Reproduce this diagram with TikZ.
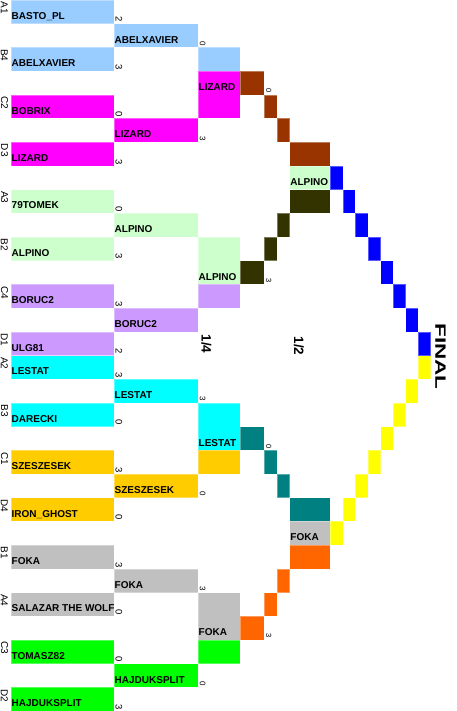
\documentclass[tikz,border=0pt]{standalone}
\usepackage{fontspec}
\setmainfont{Liberation Sans}
\usepackage{graphicx}
\definecolor{lblue}{HTML}{99CCFF}
\definecolor{magen}{HTML}{FF00FF}
\definecolor{lgreen}{HTML}{CCFFCC}
\definecolor{purp}{HTML}{CC99FF}
\definecolor{cyanc}{HTML}{00FFFF}
\definecolor{goldc}{HTML}{FFCC00}
\definecolor{grayc}{HTML}{C0C0C0}
\definecolor{greenc}{HTML}{00FF00}
\definecolor{brownc}{HTML}{993300}
\definecolor{olivec}{HTML}{333300}
\definecolor{tealc}{HTML}{008080}
\definecolor{orangec}{HTML}{FF6600}
\definecolor{bluec}{HTML}{0000FF}
\definecolor{yellowc}{HTML}{FFFF00}
\newcommand\RH{23.7}
% column edges
\newcommand\xA{11}\newcommand\xB{114}\newcommand\xC{198}\newcommand\xD{240}
\newcommand\xE{264.3}\newcommand\xF{277}\newcommand\xG{289.7}\newcommand\xH{330.3}
\newcommand\dw{12.55}
% \mycell{colour}{x1}{x2}{row from}{row to}
\newcommand\mycell[5]{\fill[#1] (#2,{#4*\RH}) rectangle (#3,{(#5+1)*\RH});
  \draw[white,draw opacity=0.35,line width=0.5pt] (#2,{#4*\RH}) rectangle (#3,{(#5+1)*\RH});}
% \myname{node name}{x}{row}{text}
\newcommand\myname[4]{\node[nm] (#1) at ({#2+0.5},{(#3+1)*\RH-4.3}) {#4};}
% \myscore{node name}{style}{x}{row}{text}
\newcommand\myscore[5]{\node[#2] (#1) at (#3,{(#4+1)*\RH}) {#5};}
% \myseed{node name}{row}{text}
\newcommand\myseed[3]{\node[seed] (#1) at (0.8,{#2*\RH+1.5}) {#3};}
\begin{document}
\begin{tikzpicture}[x=1pt,y=-1pt,
  nm/.style={anchor=base west,inner sep=0pt,font=\fontsize{10}{12}\selectfont\bfseries,text=black},
  scA/.style={rotate=-90,anchor=south east,inner sep=1.3pt,font=\fontsize{9.5}{11}\selectfont},
  scB/.style={rotate=-90,anchor=south east,inner sep=1.5pt,font=\fontsize{8}{10}\selectfont},
  scC/.style={rotate=-90,anchor=south east,inner sep=1.6pt,font=\fontsize{7.5}{9}\selectfont},
  seed/.style={rotate=-90,anchor=south west,inner sep=0pt,font=\fontsize{10}{12}\selectfont},
  rnd/.style={rotate=-90,inner sep=0pt,font=\fontsize{13.5}{15}\selectfont\bfseries}]
\useasboundingbox (0,0) rectangle (456,711);
% ---- first round / quarter colour cells
\mycell{lblue}{\xA}{\xB}{0}{0}
\mycell{lblue}{\xB}{\xC}{1}{1}
\mycell{lblue}{\xA}{\xB}{2}{2}
\mycell{lblue}{\xC}{\xD}{2}{2}
\mycell{magen}{\xC}{\xD}{3}{4}
\mycell{magen}{\xA}{\xB}{4}{4}
\mycell{magen}{\xB}{\xC}{5}{5}
\mycell{magen}{\xA}{\xB}{6}{6}
\mycell{lgreen}{\xA}{\xB}{8}{8}
\mycell{lgreen}{\xB}{\xC}{9}{9}
\mycell{lgreen}{\xA}{\xB}{10}{10}
\mycell{lgreen}{\xC}{\xD}{10}{11}
\mycell{purp}{\xC}{\xD}{12}{12}
\mycell{purp}{\xA}{\xB}{12}{12}
\mycell{purp}{\xB}{\xC}{13}{13}
\mycell{purp}{\xA}{\xB}{14}{14}
\mycell{cyanc}{\xA}{\xB}{15}{15}
\mycell{cyanc}{\xB}{\xC}{16}{16}
\mycell{cyanc}{\xA}{\xB}{17}{17}
\mycell{cyanc}{\xC}{\xD}{17}{18}
\mycell{goldc}{\xC}{\xD}{19}{19}
\mycell{goldc}{\xA}{\xB}{19}{19}
\mycell{goldc}{\xB}{\xC}{20}{20}
\mycell{goldc}{\xA}{\xB}{21}{21}
\mycell{grayc}{\xA}{\xB}{23}{23}
\mycell{grayc}{\xB}{\xC}{24}{24}
\mycell{grayc}{\xA}{\xB}{25}{25}
\mycell{grayc}{\xC}{\xD}{25}{26}
\mycell{greenc}{\xC}{\xD}{27}{27}
\mycell{greenc}{\xA}{\xB}{27}{27}
\mycell{greenc}{\xB}{\xC}{28}{28}
\mycell{greenc}{\xA}{\xB}{29}{29}
% ---- semi-final staircases
\mycell{brownc}{\xD}{\xE}{3}{3}
\mycell{brownc}{\xE}{\xF}{4}{4}
\mycell{brownc}{\xF}{\xG}{5}{5}
\mycell{brownc}{\xG}{\xH}{6}{6}
\mycell{lgreen}{\xG}{\xH}{7}{7}
\mycell{olivec}{\xG}{\xH}{8}{8}
\mycell{olivec}{\xF}{\xG}{9}{9}
\mycell{olivec}{\xE}{\xF}{10}{10}
\mycell{olivec}{\xD}{\xE}{11}{11}
\mycell{tealc}{\xD}{\xE}{18}{18}
\mycell{tealc}{\xE}{\xF}{19}{19}
\mycell{tealc}{\xF}{\xG}{20}{20}
\mycell{tealc}{\xG}{\xH}{21}{21}
\mycell{grayc}{\xG}{\xH}{22}{22}
\mycell{orangec}{\xG}{\xH}{23}{23}
\mycell{orangec}{\xF}{\xG}{24}{24}
\mycell{orangec}{\xE}{\xF}{25}{25}
\mycell{orangec}{\xD}{\xE}{26}{26}
% ---- final staircases
\foreach \k in {0,...,7}{
  \pgfmathsetmacro\bxa{\xH+\k*\dw}
  \pgfmathsetmacro\bxb{\xH+(\k+1)*\dw}
  \pgfmathsetmacro\yxa{\xH+(7-\k)*\dw}
  \pgfmathsetmacro\yxb{\xH+(8-\k)*\dw}
  \pgfmathtruncatemacro\bro{7+\k}
  \pgfmathtruncatemacro\yro{15+\k}
  \mycell{bluec}{\bxa}{\bxb}{\bro}{\bro}
  \mycell{yellowc}{\yxa}{\yxb}{\yro}{\yro}
}
% ---- names
\myname{p1}{\xA}{0}{BASTO\_PL}
\myname{p2}{\xA}{2}{ABELXAVIER}
\myname{p3}{\xA}{4}{BOBRIX}
\myname{p4}{\xA}{6}{LIZARD}
\myname{p5}{\xA}{8}{79TOMEK}
\myname{p6}{\xA}{10}{ALPINO}
\myname{p7}{\xA}{12}{BORUC2}
\myname{p8}{\xA}{14}{ULG81}
\myname{p9}{\xA}{15}{LESTAT}
\myname{p10}{\xA}{17}{DARECKI}
\myname{p11}{\xA}{19}{SZESZESEK}
\myname{p12}{\xA}{21}{IRON\_GHOST}
\myname{p13}{\xA}{23}{FOKA}
\myname{p14}{\xA}{25}{SALAZAR THE WOLF}
\myname{p15}{\xA}{27}{TOMASZ82}
\myname{p16}{\xA}{29}{HAJDUKSPLIT}
\myname{q1}{\xB}{1}{ABELXAVIER}
\myname{q2}{\xB}{5}{LIZARD}
\myname{q3}{\xB}{9}{ALPINO}
\myname{q4}{\xB}{13}{BORUC2}
\myname{q5}{\xB}{16}{LESTAT}
\myname{q6}{\xB}{20}{SZESZESEK}
\myname{q7}{\xB}{24}{FOKA}
\myname{q8}{\xB}{28}{HAJDUKSPLIT}
\myname{r1}{\xC}{3}{LIZARD}
\myname{r2}{\xC}{11}{ALPINO}
\myname{r3}{\xC}{18}{LESTAT}
\myname{r4}{\xC}{26}{FOKA}
\myname{s1}{\xG}{7}{ALPINO}
\myname{s2}{\xG}{22}{FOKA}
% ---- seeds
\myseed{d1}{0}{A1}
\myseed{d2}{2}{B4}
\myseed{d3}{4}{C2}
\myseed{d4}{6}{D3}
\myseed{d5}{8}{A3}
\myseed{d6}{10}{B2}
\myseed{d7}{12}{C4}
\myseed{d8}{14}{D1}
\myseed{d9}{15}{A2}
\myseed{d10}{17}{B3}
\myseed{d11}{19}{C1}
\myseed{d12}{21}{D4}
\myseed{d13}{23}{B1}
\myseed{d14}{25}{A4}
\myseed{d15}{27}{C3}
\myseed{d16}{29}{D2}
% ---- scores
\myscore{a1}{scA}{\xB}{0}{2}
\myscore{a2}{scA}{\xB}{2}{3}
\myscore{a3}{scA}{\xB}{4}{0}
\myscore{a4}{scA}{\xB}{6}{3}
\myscore{a5}{scA}{\xB}{8}{0}
\myscore{a6}{scA}{\xB}{10}{3}
\myscore{a7}{scA}{\xB}{12}{3}
\myscore{a8}{scA}{\xB}{14}{2}
\myscore{a9}{scA}{\xB}{15}{3}
\myscore{a10}{scA}{\xB}{17}{0}
\myscore{a11}{scA}{\xB}{19}{3}
\myscore{a12}{scA}{\xB}{21}{0}
\myscore{a13}{scA}{\xB}{23}{3}
\myscore{a14}{scA}{\xB}{25}{0}
\myscore{a15}{scA}{\xB}{27}{0}
\myscore{a16}{scA}{\xB}{29}{3}
\myscore{b1}{scB}{\xC}{1}{0}
\myscore{b2}{scB}{\xC}{5}{3}
\myscore{b5}{scB}{\xC}{16}{3}
\myscore{b6}{scB}{\xC}{20}{0}
\myscore{b7}{scB}{\xC}{24}{3}
\myscore{b8}{scB}{\xC}{28}{0}
\myscore{c1}{scC}{\xE}{3}{0}
\myscore{c2}{scC}{\xE}{11}{3}
\myscore{c3}{scC}{\xE}{18}{0}
\myscore{c4}{scC}{\xE}{26}{3}
% ---- round labels
\node[rnd] (quarter) at (206.5,344) {1/4};
\node[rnd] (semi) at (299,346) {1/2};
\node[rotate=-90,inner sep=0pt,font=\fontsize{15}{17}\selectfont\bfseries] (final) at (440.6,356.5) {\scalebox{1.5}[1]{FINAL}};
\end{tikzpicture}
\end{document}
